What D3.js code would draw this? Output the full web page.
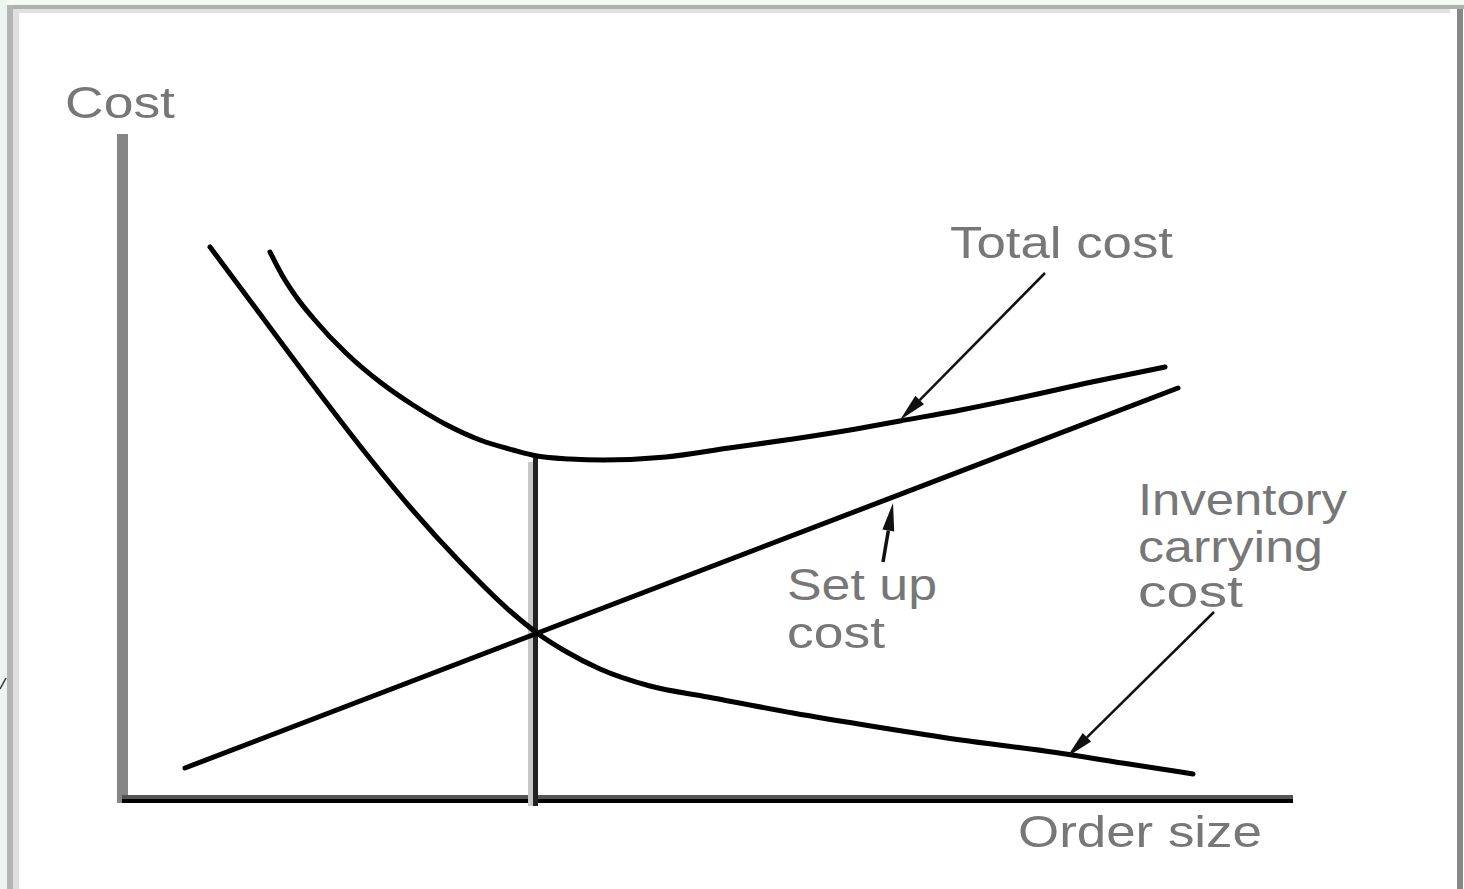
<!DOCTYPE html>
<meta charset="utf-8">
<style>
body {
  margin: 0;
  background: #fff;
}
svg text {
  font-family: "Liberation Sans", Arial, Helvetica, sans-serif;
  fill: #777;
}
.curve {
  fill: none;
  stroke: #000;
  stroke-width: 5;
  stroke-linejoin: round;
  stroke-linecap: round;
}
.pointer {
  stroke: #111;
  fill: none;
}
</style>
<body>
<script src="https://d3js.org/d3.v7.min.js"></script>
<script>

// order size / cost in arbitrary units (10 px per unit)
var totalCostX = [14.8, 16.0, 17.5, 19.1, 22.5, 25.8, 29.1, 32.5, 35.8, 39.1, 41.5, 44.8, 48.1, 54.4, 60.7, 67.1, 73.4, 77.8, 83.9, 90.2, 96.5, 104.3];
var totalCostY = [54.5, 52.2, 49.9, 47.9, 44.3, 41.5, 39.2, 37.2, 35.7, 34.7, 34.1, 33.8, 33.7, 34.0, 34.9, 35.8, 36.8, 37.6, 38.7, 40.0, 41.4, 43.0];

var carryingX = [8.8, 13.8, 18.8, 23.8, 28.8, 33.8, 38.8, 41.5, 44.3, 47.8, 52.8, 58.6, 67.1, 75.5, 83.9, 92.3, 100.7, 107.1];
var carryingY = [55.0, 48.3, 41.6, 35.1, 29.0, 23.5, 18.6, 16.4, 14.6, 12.8, 11.1, 10.0, 8.4, 7.0, 5.7, 4.6, 3.3, 2.3];

var setupX = [6.3, 105.6];
var setupY = [2.9, 40.9];

var optimumX = 41.35;            // vertical line at the optimum order size
var optimumY = [33.9, -0.9];

var width = 1464, height = 889;

var x = d3.scaleLinear().domain([0, 117]).range([122, 1292]);
var y = d3.scaleLinear().domain([0, 66.3]).range([797, 134]);

var svg = d3.select("body").append("svg")
    .attr("width", width)
    .attr("height", height);

// frame of the screenshot
svg.append("rect").attr("width", width).attr("height", height).attr("fill", "#fff");
svg.append("rect").attr("x", 0).attr("y", 0).attr("width", width).attr("height", 5).attr("fill", "#f4f9f2");
svg.append("rect").attr("x", 0).attr("y", 0).attr("width", 7).attr("height", height).attr("fill", "#eaf5f2");
svg.append("rect").attr("x", 7).attr("y", 5).attr("width", width - 7).attr("height", 4).attr("fill", "#b0b0b0");
svg.append("rect").attr("x", 13).attr("y", 9).attr("width", 1437).attr("height", 4).attr("fill", "#e0e0e0");
svg.append("rect").attr("x", 7).attr("y", 5).attr("width", 6).attr("height", height).attr("fill", "#b4b4b4");
svg.append("rect").attr("x", 13).attr("y", 9).attr("width", 6).attr("height", height).attr("fill", "#e0e0e0");
svg.append("rect").attr("x", 1457).attr("y", 9).attr("width", 6).attr("height", height).attr("fill", "#888");
svg.append("line").attr("x1", 0).attr("y1", 689).attr("x2", 6).attr("y2", 678)
    .attr("stroke", "#333").attr("stroke-width", 1.5);

// axes
svg.append("line")
    .attr("x1", x(0) + 0.5).attr("x2", x(0) + 0.5)
    .attr("y1", y(-0.6)).attr("y2", y(66.3))
    .attr("stroke", "#868686").attr("stroke-width", 11);
svg.append("line")
    .attr("x1", x(0)).attr("x2", x(117.1))
    .attr("y1", y(0)).attr("y2", y(0))
    .attr("stroke", "#555").attr("stroke-width", 4);
svg.append("line")
    .attr("x1", x(0)).attr("x2", x(117.1))
    .attr("y1", y(-0.4)).attr("y2", y(-0.4))
    .attr("stroke", "#000").attr("stroke-width", 4);

// optimum line
svg.append("line")
    .attr("x1", x(optimumX) - 5).attr("x2", x(optimumX) - 5)
    .attr("y1", y(optimumY[0]) + 4).attr("y2", y(optimumY[1]))
    .attr("stroke", "#c8c8c8").attr("stroke-width", 5);
svg.append("line")
    .attr("x1", x(optimumX)).attr("x2", x(optimumX))
    .attr("y1", y(optimumY[0])).attr("y2", y(optimumY[1]))
    .attr("stroke", "#222").attr("stroke-width", 5);

var line = d3.line()
    .x(d => x(d[0]))
    .y(d => y(d[1]))
    .curve(d3.curveMonotoneX);

svg.append("path").attr("class", "curve")
    .attr("d", line(d3.zip(totalCostX, totalCostY)));
svg.append("path").attr("class", "curve")
    .attr("d", line(d3.zip(carryingX, carryingY)));
svg.append("path").attr("class", "curve")
    .attr("d", line(d3.zip(setupX, setupY)));

// pointer arrows: [fromX, fromY, toX, toY, shaft width]
var pointers = [
  [92.3, 52.4, 77.8, 37.7, 2.5],
  [76.1, 23.5, 77.1, 29.4, 3.5],
  [109.2, 18.5, 94.5, 4.0, 2.5]
];

pointers.forEach(p => {
  var x1 = x(p[0]), y1 = y(p[1]), x2 = x(p[2]), y2 = y(p[3]);
  var dx = x2 - x1, dy = y2 - y1, len = Math.sqrt(dx * dx + dy * dy);
  var ux = dx / len, uy = dy / len;
  var headLen = 28, half = 6;
  var bx = x2 - ux * headLen, by = y2 - uy * headLen;
  svg.append("line").attr("class", "pointer")
      .attr("x1", x1).attr("y1", y1).attr("x2", bx).attr("y2", by)
      .attr("stroke-width", p[4]);
  svg.append("path")
      .attr("d", "M" + x2 + "," + y2 +
        "L" + (bx - uy * half) + "," + (by + ux * half) +
        "L" + (bx + uy * half) + "," + (by - ux * half) + "Z")
      .attr("fill", "#111");
});

// labels: text, left x (px), baseline y (px), width (px)
var labels = [
  ["Cost", 65, 118, 110],
  ["Total cost", 950, 258, 223],
  ["Set up", 787, 600, 150],
  ["cost", 787, 648, 98],
  ["Inventory", 1138, 515, 209],
  ["carrying", 1138, 562, 185],
  ["cost", 1138, 607, 105],
  ["Order size", 1018, 847, 244]
];

svg.selectAll(".label")
    .data(labels)
  .enter().append("text")
    .attr("class", "label")
    .attr("x", d => d[1])
    .attr("y", d => d[2])
    .attr("font-size", 44)
    .attr("textLength", d => d[3])
    .attr("lengthAdjust", "spacingAndGlyphs")
    .text(d => d[0]);

</script>
</body>
